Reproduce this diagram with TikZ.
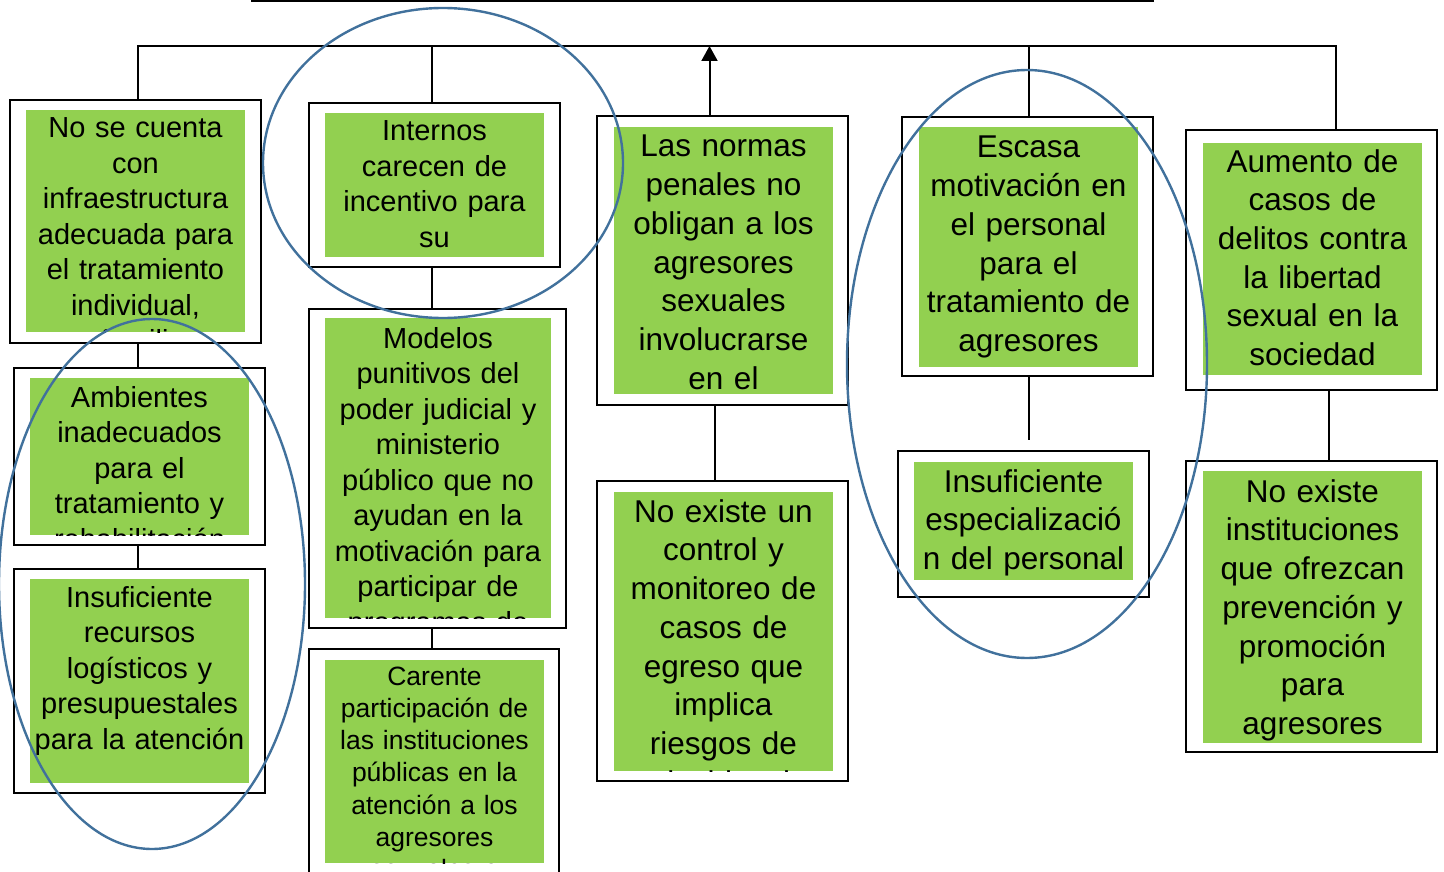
\documentclass[tikz,border=0pt]{standalone}
\usepackage{fontspec}
\setmainfont{Liberation Sans}
\usetikzlibrary{arrows.meta}
\definecolor{boxgreen}{HTML}{92D050}
\definecolor{ellblue}{HTML}{41719C}
\tikzset{
  outerbox/.style={draw=black, line width=2pt, fill=white, rectangle, inner sep=0pt, outer sep=0pt},
  greenbox/.style={fill=boxgreen, rectangle, inner sep=0pt, outer sep=0pt},
  txtA/.style={inner sep=0pt, outer sep=0pt, text width=300pt, align=center, anchor=base, font=\fontsize{29}{35.5}\selectfont},
  txtB/.style={inner sep=0pt, outer sep=0pt, text width=300pt, align=center, anchor=base, font=\fontsize{26.5}{32.3}\selectfont},
  txtC/.style={inner sep=0pt, outer sep=0pt, text width=300pt, align=center, anchor=base, font=\fontsize{31.5}{38.75}\selectfont},
  conn/.style={draw=black, line width=2pt},
  ell/.style={draw=ellblue, line width=2.4pt},
}
\begin{document}
\begin{tikzpicture}[x=1pt,y=-1pt]
\useasboundingbox (0,0) rectangle (1444,872);

% top (cut) box
\node[outerbox, minimum width=901pt, minimum height=60pt] (top) at (702.5,-29) {};

% boxes
\node[outerbox, minimum width=251pt, minimum height=243pt] (b1) at (135.5,221.5) {};
\node[greenbox, minimum width=219pt, minimum height=222pt] (g1) at (135.5,221) {};
\node[outerbox, minimum width=251pt, minimum height=177pt] (b2) at (139.5,456.5) {};
\node[greenbox, minimum width=219pt, minimum height=157pt] (g2) at (139.5,456.5) {};
\node[outerbox, minimum width=251pt, minimum height=224pt] (b3) at (139.5,681) {};
\node[greenbox, minimum width=219pt, minimum height=204pt] (g3) at (139.5,681) {};
\node[outerbox, minimum width=251pt, minimum height=164pt] (b4) at (434.5,185) {};
\node[greenbox, minimum width=219pt, minimum height=144pt] (g4) at (434.5,185) {};
\node[outerbox, minimum width=257pt, minimum height=319pt] (b5) at (437.5,468.5) {};
\node[greenbox, minimum width=226pt, minimum height=300pt] (g5) at (438,468) {};
\node[outerbox, minimum width=250pt, minimum height=241pt] (b6) at (434,769.5) {};
\node[greenbox, minimum width=219pt, minimum height=203pt] (g6) at (434.5,761.5) {};
\node[outerbox, minimum width=251pt, minimum height=289pt] (b7) at (722.5,260.5) {};
\node[greenbox, minimum width=219pt, minimum height=267pt] (g7) at (723.5,260.5) {};
\node[outerbox, minimum width=251pt, minimum height=300pt] (b8) at (722.5,631) {};
\node[greenbox, minimum width=219pt, minimum height=279pt] (g8) at (723.5,631.5) {};
\node[outerbox, minimum width=251pt, minimum height=259pt] (b9) at (1027.5,246.5) {};
\node[greenbox, minimum width=219pt, minimum height=240pt] (g9) at (1028.5,247) {};
\node[outerbox, minimum width=251pt, minimum height=146pt] (b10) at (1023.5,524) {};
\node[greenbox, minimum width=219pt, minimum height=118pt] (g10) at (1023.5,521) {};
\node[outerbox, minimum width=251pt, minimum height=260pt] (b11) at (1311.5,260) {};
\node[greenbox, minimum width=219pt, minimum height=232pt] (g11) at (1312.5,259) {};
\node[outerbox, minimum width=251pt, minimum height=291pt] (b12) at (1311.5,606.5) {};
\node[greenbox, minimum width=219pt, minimum height=272pt] (g12) at (1312.5,607) {};

% texts (clipped to green boxes)
\begin{scope}\clip (g1.north west) rectangle (g1.south east);
\node[txtA] (t1) at (135.5,138) {No se cuenta\\con\\infraestructura\\adecuada para\\el tratamiento\\individual,\\y familiar};
\end{scope}
\begin{scope}\clip (g2.north west) rectangle (g2.south east);
\node[txtA] (t2) at (139.5,407) {Ambientes\\inadecuados\\para el\\tratamiento y\\rehabilitación};
\end{scope}
\begin{scope}\clip (g3.north west) rectangle (g3.south east);
\node[txtA] (t3) at (139.5,607) {Insuficiente\\recursos\\logísticos y\\presupuestales\\para la atención};
\end{scope}
\begin{scope}\clip (g4.north west) rectangle (g4.south east);
\node[txtA] (t4) at (434.5,141) {Internos\\carecen de\\incentivo para\\su};
\end{scope}
\begin{scope}\clip (g5.north west) rectangle (g5.south east);
\node[txtA] (t5) at (438,348) {Modelos\\punitivos del\\poder judicial y\\ministerio\\público que no\\ayudan en la\\motivación para\\participar de\\programas de};
\end{scope}
\begin{scope}\clip (g6.north west) rectangle (g6.south east);
\node[txtB] (t6) at (434.5,685) {Carente\\participación de\\las instituciones\\públicas en la\\atención a los\\agresores\\sexuales e};
\end{scope}
\begin{scope}\clip (g7.north west) rectangle (g7.south east);
\node[txtC] (t7) at (723.5,157) {Las normas\\penales no\\obligan a los\\agresores\\sexuales\\involucrarse\\en el};
\end{scope}
\begin{scope}\clip (g8.north west) rectangle (g8.south east);
\node[txtC] (t8) at (723.5,522) {No existe un\\control y\\monitoreo de\\casos de\\egreso que\\implica\\riesgos de\\reincidencia};
\end{scope}
\begin{scope}\clip (g9.north west) rectangle (g9.south east);
\node[txtC] (t9) at (1028.5,158) {Escasa\\motivación en\\el personal\\para el\\tratamiento de\\agresores};
\end{scope}
\begin{scope}\clip (g10.north west) rectangle (g10.south east);
\node[txtC] (t10) at (1023.5,492) {Insuficiente\\especializació\\n del personal};
\end{scope}
\begin{scope}\clip (g11.north west) rectangle (g11.south east);
\node[txtC] (t11) at (1312.5,172) {Aumento de\\casos de\\delitos contra\\la libertad\\sexual en la\\sociedad};
\end{scope}
\begin{scope}\clip (g12.north west) rectangle (g12.south east);
\node[txtC] (t12) at (1312.5,502) {No existe\\instituciones\\que ofrezcan\\prevención y\\promoción\\para\\agresores};
\end{scope}

% connectors
\coordinate (hL) at (138,46);
\coordinate (hR) at (1335.5,46);
\coordinate (c4) at (432,46);
\coordinate (arr) at (709.5,46);
\coordinate (c9) at (1029,46);
\coordinate (c78) at (714.5,0);
\coordinate (c1112) at (1329,0);
\coordinate (c9end) at (1029,440);
\draw[conn] (hL |- b1.north) -- (hL) -- (hR) -- (hR |- b11.north);
\draw[conn] (c4) -- (c4 |- b4.north);
\draw[conn] (c9) -- (c9 |- b9.north);
\draw[conn, -{Triangle[length=15pt,width=16pt]}] (arr |- b7.north) -- (arr);
\draw[conn] (hL |- b1.south) -- (hL |- b2.north);
\draw[conn] (hL |- b2.south) -- (hL |- b3.north);
\draw[conn] (c4 |- b4.south) -- (c4 |- b5.north);
\draw[conn] (c4 |- b5.south) -- (c4 |- b6.north);
\draw[conn] (c78 |- b7.south) -- (c78 |- b8.north);
\draw[conn] (c9 |- b9.south) -- (c9end);
\draw[conn] (c1112 |- b11.south) -- (c1112 |- b12.north);

% ellipses
\draw[ell] (443,163) ellipse [x radius=180, y radius=155];
\draw[ell] (152,584) ellipse [x radius=153, y radius=265];
\draw[ell] (1027,364) ellipse [x radius=180, y radius=294];
\end{tikzpicture}
\end{document}
